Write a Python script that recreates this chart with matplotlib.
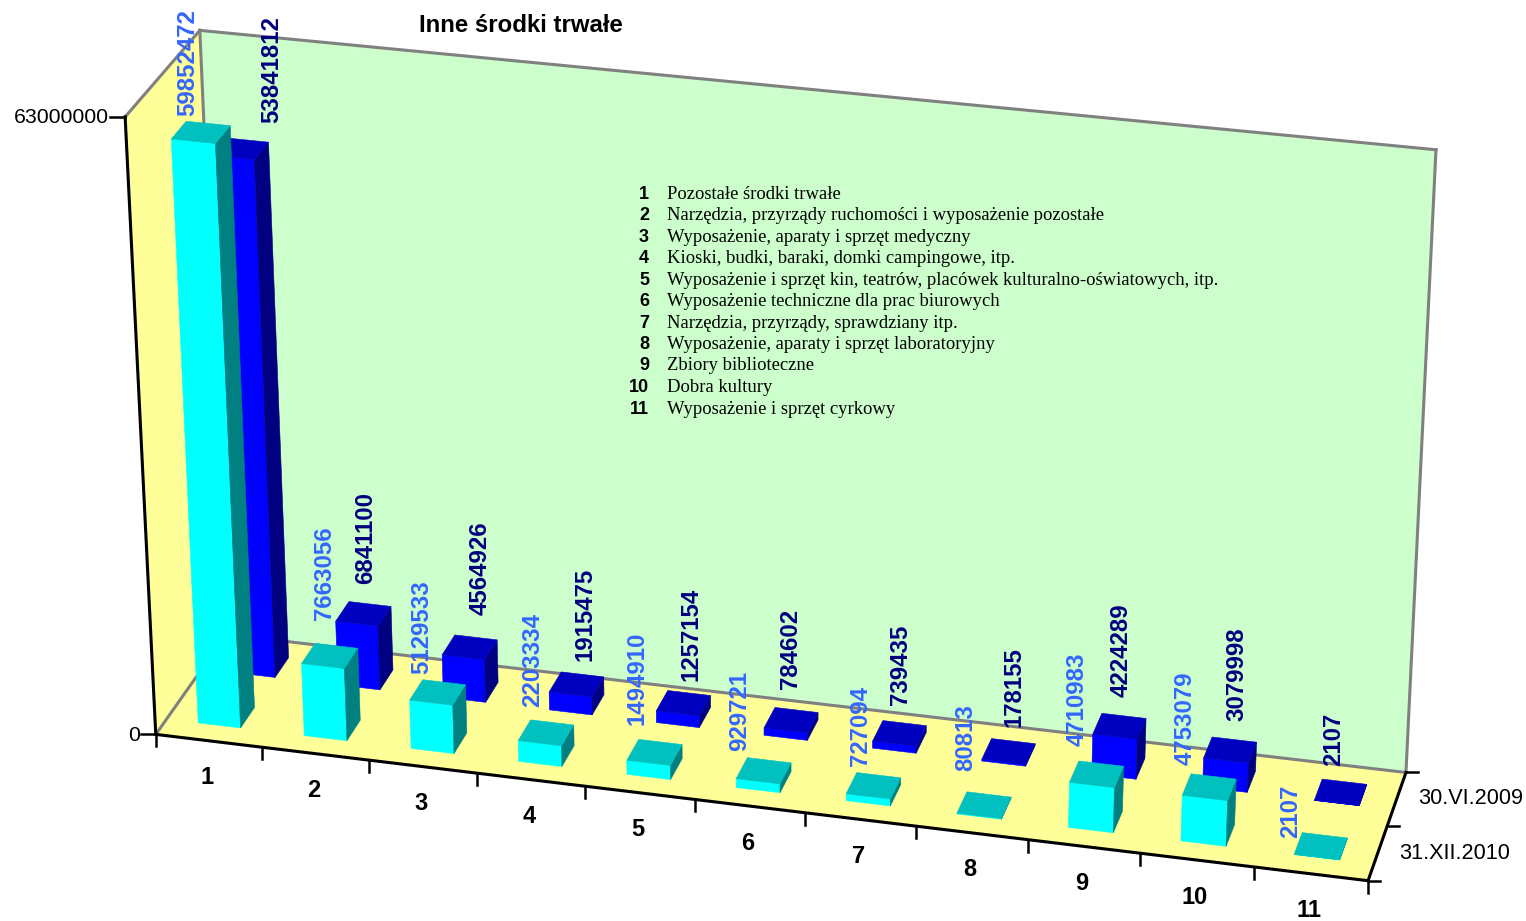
import numpy as np
import matplotlib
matplotlib.use("Agg")
import matplotlib.pyplot as plt

# Data
categories = ["1", "2", "3", "4", "5", "6", "7", "8", "9", "10", "11"]
series_names = ["31.XII.2010", "30.VI.2009"]
values_2010 = [59852472, 7663056, 5129533, 2203334, 1494910, 929721, 727094, 80813, 4710983, 4753079, 2107]
values_2009 = [53841812, 6841100, 4564926, 1915475, 1257154, 784602, 739435, 178155, 4224289, 3079998, 2107]
z_max = 63000000
legend_items = [
    "Pozostałe środki trwałe",
    "Narzędzia, przyrządy ruchomości i wyposażenie pozostałe",
    "Wyposażenie, aparaty i sprzęt medyczny",
    "Kioski, budki, baraki, domki campingowe, itp.",
    "Wyposażenie i sprzęt kin, teatrów, placówek kulturalno-oświatowych, itp.",
    "Wyposażenie techniczne dla prac biurowych",
    "Narzędzia, przyrządy, sprawdziany itp.",
    "Wyposażenie, aparaty i sprzęt laboratoryjny",
    "Zbiory biblioteczne",
    "Dobra kultury",
    "Wyposażenie i sprzęt cyrkowy",
]

# Labels were moved by hand in the original, so they get their own pixel spots
label_px_2010 = [(188, 116), (325, 620), (422, 674), (533, 707), (637, 725), (740, 751),
                 (860, 766), (966, 771), (1077, 746), (1185, 765), (1291, 838)]
label_px_2009 = [(272, 123), (366, 584), (480, 615), (585, 661), (691, 681), (791, 689),
                 (900, 705), (1014, 727), (1121, 697), (1237, 721), (1334, 766)]
legend_rows = [194, 215, 237, 258, 280, 301, 323, 344, 365, 387, 409]

# Colors
green_wall = "#CCFFCC"
yellow_wall = "#FFFF99"
grey_edge = "#808080"
cyan = ("#00FFFF", "#00C0C0", "#008080")
blue = ("#0000FF", "#0000C0", "#000080")
cyan_label = "#3366FF"
blue_label = "#000080"

plt.rcParams['font.family'] = 'Liberation Sans'

# Camera: fit a perspective matrix from where the box corners sit in the picture
# (category, series, height share) -> pixel
world = [(0, 0, 0), (11, 0, 0), (11, 2, 0), (0, 2, 0), (0, 0, 1), (0, 2, 1), (11, 2, 1)]
pixel = [(155, 733), (1368, 882), (1406, 771), (227, 636), (126, 117), (199, 30), (1436, 150)]
rows = []
for (X, Y, Z), (u, v) in zip(world, pixel):
    rows.append([X, Y, Z, 1, 0, 0, 0, 0, -u * X, -u * Y, -u * Z, -u])
    rows.append([0, 0, 0, 0, X, Y, Z, 1, -v * X, -v * Y, -v * Z, -v])
P = np.linalg.svd(np.array(rows, dtype=float))[2][-1].reshape(3, 4)


def project(x, y, z):
    u, v, w = P @ np.array([x, y, z, 1.0])
    return u / w, v / w


def face(ax, corners, color, zorder=1):
    pts = [project(*c) for c in corners]
    ax.fill([p[0] for p in pts], [p[1] for p in pts], facecolor=color,
            edgecolor=color, linewidth=0.4, zorder=zorder)


def bar(ax, cat, depth, value, colors, zorder):
    x0, x1 = cat + 0.3, cat + 0.7
    y0, y1 = depth + 0.3, depth + 0.7
    h = value / z_max
    face(ax, [(x0, y0, 0), (x1, y0, 0), (x1, y0, h), (x0, y0, h)], colors[0], zorder)
    face(ax, [(x1, y0, 0), (x1, y1, 0), (x1, y1, h), (x1, y0, h)], colors[2], zorder)
    face(ax, [(x0, y0, h), (x1, y0, h), (x1, y1, h), (x0, y1, h)], colors[1], zorder)


def line(ax, a, b, color, zorder, lw=2.2):
    pa, pb = project(*a), project(*b)
    ax.plot([pa[0], pb[0]], [pa[1], pb[1]], color=color, lw=lw, zorder=zorder,
            solid_capstyle="projecting")


fig = plt.figure(figsize=(15.26, 9.21), dpi=100)
ax = fig.add_axes([0, 0, 1, 1])
ax.set_xlim(0, 1526)
ax.set_ylim(921, 0)
ax.axis("off")

# Walls and floor
face(ax, [(0, 2, 0), (11, 2, 0), (11, 2, 1), (0, 2, 1)], green_wall)
face(ax, [(0, 0, 0), (0, 2, 0), (0, 2, 1), (0, 0, 1)], yellow_wall)
face(ax, [(0, 0, 0), (11, 0, 0), (11, 2, 0), (0, 2, 0)], yellow_wall)

line(ax, (0, 2, 1), (11, 2, 1), grey_edge, 2)
line(ax, (11, 2, 1), (11, 2, 0), grey_edge, 2)
line(ax, (0, 2, 1), (0, 2, 0), grey_edge, 2)
line(ax, (0, 2, 0), (11, 2, 0), grey_edge, 2)
line(ax, (0, 2, 0), (0, 0, 0), grey_edge, 2)
line(ax, (0, 0, 1), (0, 2, 1), grey_edge, 2)

# Bars, back row first
for i in range(len(categories)):
    bar(ax, i, 1, values_2009[i], blue, 3)
for i in range(len(categories)):
    bar(ax, i, 0, values_2010[i], cyan, 4)

# Axes
line(ax, (0, 0, 0), (0, 0, 1), "black", 5)
line(ax, (0, 0, 0), (11, 0, 0), "black", 5)
line(ax, (11, 0, 0), (11, 2, 0), "black", 5)

for i in range(len(categories) + 1):
    u, v = project(i, 0, 0)
    ax.plot([u, u], [v, v + 12], color="black", lw=1.8, zorder=5)
for d in range(3):
    u, v = project(11, d, 0)
    ax.plot([u, u + 12], [v, v], color="black", lw=1.8, zorder=5)
for share, text in [(0, "0"), (1, str(z_max))]:
    u, v = project(0, 0, share)
    ax.plot([u - 15, u], [v, v], color="black", lw=1.8, zorder=5)
    ax.text(u - 16, v + 1, text, ha="right", va="center", fontsize=15.3, color="black")

for i, name in enumerate(categories):
    u, v = project(i + 0.5, 0, 0)
    ax.text(u - 2, v + 37, name, ha="center", va="center", fontsize=17, fontweight="bold")
for d, name in enumerate(series_names):
    u, v = project(11, d + 0.5, 0)
    ax.text(u + 21, v, name, ha="left", va="center", fontsize=15.6)

# Data labels
for val, (u, v) in zip(values_2010, label_px_2010):
    ax.text(u, v, str(val), rotation=90, ha="center", va="bottom", fontsize=17.3,
            fontweight="bold", color=cyan_label, zorder=6)
for val, (u, v) in zip(values_2009, label_px_2009):
    ax.text(u, v, str(val), rotation=90, ha="center", va="bottom", fontsize=17.3,
            fontweight="bold", color=blue_label, zorder=6)

# Title and the category key
ax.text(521, 26, "Inne środki trwałe", ha="center", va="center", fontsize=17.3, fontweight="bold")
for name, item, row in zip(categories, legend_items, legend_rows):
    ax.text(649, row, name, ha="right", va="center", fontsize=13, fontweight="bold")
    ax.text(667, row, item, ha="left", va="center", fontsize=13.45, family="Liberation Serif")

fig.savefig("out.png", dpi=100)
